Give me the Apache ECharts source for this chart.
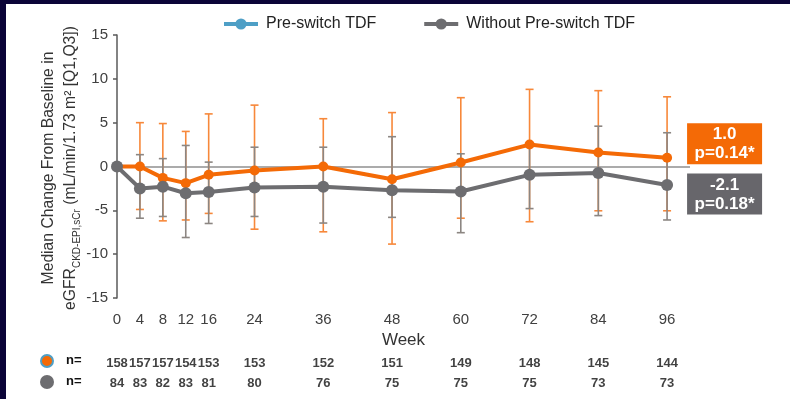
<!DOCTYPE html>
<html>
<head>
<meta charset="utf-8">
<script src="https://cdn.jsdelivr.net/npm/echarts@6/dist/echarts.min.js"></script>
<style>
  html, body { margin: 0; padding: 0; background: #ffffff; }
  #frame { position: absolute; left: 0; top: 0; width: 790px; height: 399px; background: #0b0438; }
  #chart { position: absolute; left: 6px; top: 4px; width: 784px; height: 395px; background: #ffffff; }
</style>
</head>
<body>
<div id="frame"></div>
<div id="chart"></div>
<script>
// Study weeks with an eGFR assessment
const weeks = [0, 4, 8, 12, 16, 24, 36, 48, 60, 72, 84, 96];
const weekTicks = [0, 4, 8, 12, 16, 24, 36, 48, 60, 72, 84, 96];

// Pre-switch TDF: median change and interquartile range
const preMedian = [0, 0.0, -1.3, -1.9, -0.95, -0.45, 0.0, -1.45, 0.45, 2.5, 1.6, 1.0];
const preQ1 = [null, -4.9, -6.2, -6.1, -5.35, -7.15, -7.45, -8.85, -5.9, -6.3, -5.05, -5.05];
const preQ3 = [null, 5.0, 4.9, 4.0, 6.0, 7.0, 5.45, 6.15, 7.85, 8.8, 8.65, 7.95];

// Without pre-switch TDF: median change and interquartile range
const woMedian = [0, -2.5, -2.3, -3.05, -2.9, -2.4, -2.3, -2.7, -2.85, -0.95, -0.75, -2.1];
const woQ1 = [null, -5.9, -5.7, -8.1, -6.5, -5.7, -6.45, -5.8, -7.55, -4.8, -5.6, -6.1];
const woQ3 = [null, 1.35, 0.9, 2.4, 0.5, 2.2, 2.2, 3.4, 1.45, 2.3, 4.6, 3.85];

// Participants with data at each visit
const nPre = [158, 157, 157, 154, 153, 153, 152, 151, 149, 148, 145, 144];
const nWo = [84, 83, 82, 83, 81, 80, 76, 75, 75, 75, 73, 73];

// p-values shown next to the week 96 medians
const pValues = ['0.14*', '0.18*'];

const seriesNames = ['Pre-switch TDF', 'Without Pre-switch TDF'];

const ORANGE = '#f46a06';
const ORANGE_BAR = '#f7883a';
const GREY = '#6d6d70';
const GREY_BAR = '#8c8682';
const LEGEND_BLUE = '#4e9fc6';
const FONT = '"Liberation Sans", Arial, sans-serif';

const chart = echarts.init(document.getElementById('chart'), null, { renderer: 'canvas' });

function errorBars(name, q1, q3, color, z) {
  const data = [];
  weeks.forEach((w, i) => { if (q1[i] != null) data.push([w, q1[i], q3[i]]); });
  return {
    type: 'custom',
    name: name,
    xAxisIndex: 0,
    yAxisIndex: 0,
    z: z,
    silent: true,
    data: data,
    encode: { x: 0, y: [1, 2] },
    renderItem: function (params, api) {
      const x = api.value(0);
      const lo = api.coord([x, api.value(1)]);
      const hi = api.coord([x, api.value(2)]);
      const hw = 4;
      const style = { stroke: color, lineWidth: 1.6 };
      return {
        type: 'group',
        children: [
          { type: 'line', shape: { x1: lo[0], y1: lo[1], x2: hi[0], y2: hi[1] }, style: style },
          { type: 'line', shape: { x1: lo[0] - hw, y1: lo[1], x2: lo[0] + hw, y2: lo[1] }, style: style },
          { type: 'line', shape: { x1: hi[0] - hw, y1: hi[1], x2: hi[0] + hw, y2: hi[1] }, style: style }
        ]
      };
    }
  };
}

function endBox(bg, idx, dy) {
  return {
    show: true,
    distance: 20,
    offset: [0, dy],
    align: 'left',
    verticalAlign: 'middle',
    backgroundColor: bg,
    padding: [2, 6, 1, 6],
    formatter: function (p) {
      return '{t|' + p.value[1].toFixed(1) + '}\n{t|p=' + pValues[idx] + '}';
    },
    rich: {
      t: {
        width: 63,
        align: 'center',
        color: '#ffffff',
        fontFamily: FONT,
        fontWeight: 'bold',
        fontSize: 17,
        lineHeight: 19
      }
    }
  };
}

const option = {
  animation: false,
  backgroundColor: '#ffffff',
  textStyle: { fontFamily: FONT },
  legend: {
    left: 211,
    top: 7,
    itemWidth: 34,
    itemHeight: 14,
    itemGap: 46,
    textStyle: { fontSize: 16, color: '#222222', fontFamily: FONT, padding: [0, 0, 0, 3] },
    data: [
      { name: seriesNames[0], itemStyle: { color: LEGEND_BLUE }, lineStyle: { color: LEGEND_BLUE, width: 4 } },
      { name: seriesNames[1], itemStyle: { color: GREY }, lineStyle: { color: GREY, width: 4 } }
    ]
  },
  grid: [
    { left: 111, right: 100, top: 31, bottom: 101 },
    { left: 111, right: 100, top: 349, height: 40 }
  ],
  xAxis: [
    {
      gridIndex: 0,
      type: 'value',
      min: 0,
      max: 100,
      axisLine: { show: false },
      axisTick: { show: false },
      splitLine: { show: false },
      axisLabel: {
        customValues: weekTicks,
        margin: 14,
        fontSize: 15,
        color: '#404040',
        fontFamily: FONT
      },
      name: 'Week',
      nameLocation: 'middle',
      nameGap: 34,
      nameTextStyle: { fontSize: 17, color: '#333333', fontFamily: FONT }
    },
    {
      gridIndex: 1,
      type: 'value',
      min: 0,
      max: 100,
      show: false
    }
  ],
  yAxis: [
    {
      gridIndex: 0,
      type: 'value',
      min: -15,
      max: 15,
      interval: 5,
      axisLine: { show: true, lineStyle: { color: '#5a5a5a', width: 1.5 } },
      axisTick: { show: true, length: 4, lineStyle: { color: '#5a5a5a', width: 1.5 } },
      splitLine: { show: false },
      axisLabel: { margin: 9, fontSize: 15, color: '#404040', fontFamily: FONT }
    },
    {
      gridIndex: 1,
      type: 'category',
      inverse: true,
      data: ['pre', 'wo'],
      show: false
    }
  ],
  series: [
    errorBars('Pre-switch IQR', preQ1, preQ3, ORANGE_BAR, 1),
    errorBars('Without IQR', woQ1, woQ3, GREY_BAR, 2),
    {
      name: seriesNames[0],
      type: 'line',
      z: 3,
      data: weeks.map((w, i) => [w, preMedian[i]]),
      symbol: 'circle',
      symbolSize: 10,
      lineStyle: { color: ORANGE, width: 4 },
      itemStyle: { color: ORANGE },
      endLabel: endBox(ORANGE, 0, -14),
      markLine: {
        silent: true,
        symbol: 'none',
        label: { show: false },
        lineStyle: { color: '#8f8f8f', width: 1.5, type: 'solid' },
        z: 0,
        data: [[{ coord: [0, 0] }, { coord: [100, 0] }]]
      }
    },
    {
      name: seriesNames[1],
      type: 'line',
      z: 4,
      data: weeks.map((w, i) => [w, woMedian[i]]),
      symbol: 'circle',
      symbolSize: 12,
      lineStyle: { color: GREY, width: 4 },
      itemStyle: { color: GREY },
      endLabel: endBox('#67666b', 1, 9)
    },
    {
      type: 'scatter',
      xAxisIndex: 1,
      yAxisIndex: 1,
      silent: true,
      symbolSize: 0,
      data: weeks.map((w, i) => [w, 'pre', nPre[i]]).concat(weeks.map((w, i) => [w, 'wo', nWo[i]])),
      label: {
        show: true,
        position: 'inside',
        formatter: function (p) { return String(p.value[2]); },
        fontSize: 13,
        fontWeight: 'bold',
        color: '#111111',
        fontFamily: FONT
      }
    }
  ],
  graphic: [
    {
      type: 'text',
      style: {
        text: 'Median Change From Baseline in\neGFR{sub|CKD-EPI,sCr} (mL/min/1.73 m² [Q1,Q3])',
        font: '15.7px ' + FONT,
        fill: '#333333',
        textAlign: 'center',
        textVerticalAlign: 'middle',
        lineHeight: 22,
        rich: {
          sub: { fontSize: 10, verticalAlign: 'bottom', fill: '#333333', lineHeight: 22 }
        }
      },
      rotation: Math.PI / 2,
      x: 54,
      y: 164
    },
    { type: 'circle', shape: { cx: 41, cy: 357, r: 6 }, style: { fill: ORANGE, stroke: LEGEND_BLUE, lineWidth: 2 } },
    { type: 'circle', shape: { cx: 41, cy: 378, r: 7 }, style: { fill: GREY } },
    { type: 'text', x: 60, y: 350, style: { text: 'n=', font: 'bold 13px ' + FONT, fill: '#111111' } },
    { type: 'text', x: 60, y: 371, style: { text: 'n=', font: 'bold 13px ' + FONT, fill: '#111111' } }
  ]
};

chart.setOption(option);
</script>
</body>
</html>
